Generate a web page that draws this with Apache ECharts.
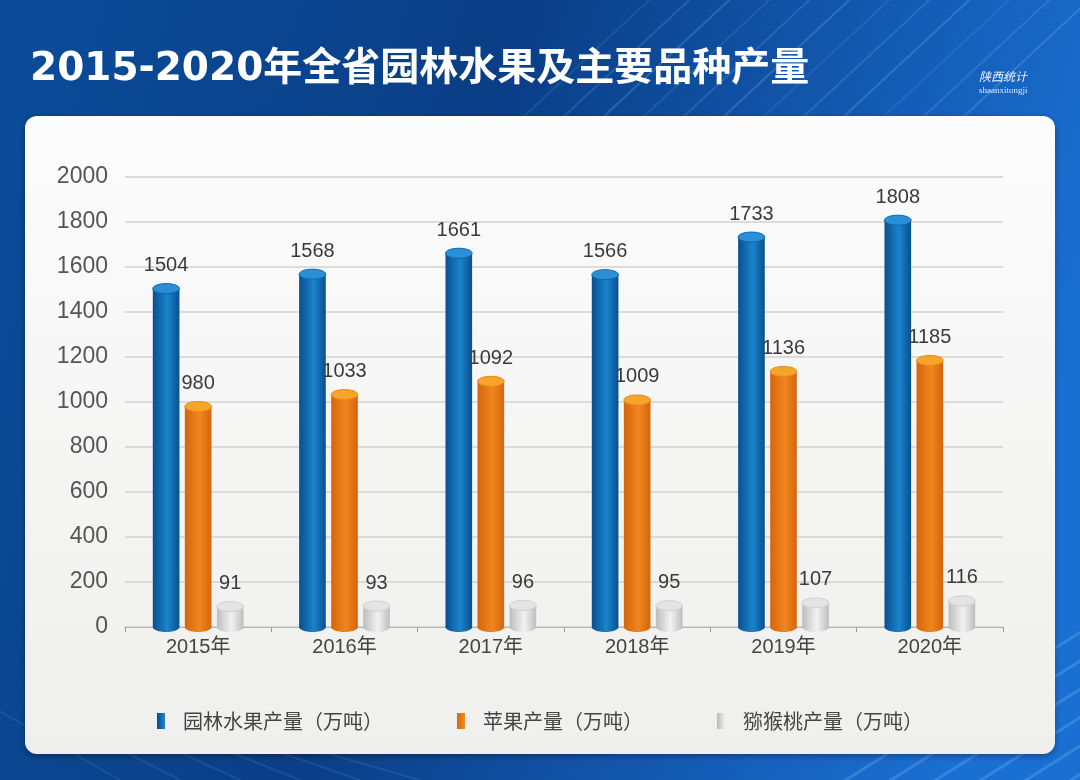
<!DOCTYPE html>
<html>
<head>
<meta charset="utf-8">
<script src="https://cdn.jsdelivr.net/npm/echarts@6/dist/echarts.min.js"></script>
<style>
html,body{margin:0;padding:0;background:#0d4a98;}
#chart{width:1080px;height:780px;}
</style>
</head>
<body>
<div id="chart"></div>
<script>
const titleText = '2015-2020年全省园林水果及主要品种产量';
const categories = ['2015年', '2016年', '2017年', '2018年', '2019年', '2020年'];
const seriesNames = ['园林水果产量（万吨）', '苹果产量（万吨）', '猕猴桃产量（万吨）'];
const orchardFruit = [1504, 1568, 1661, 1566, 1733, 1808];
const apple = [980, 1033, 1092, 1009, 1136, 1185];
const kiwi = [91, 93, 96, 95, 107, 116];
const yMin = 0, yMax = 2000, yInterval = 200;

const palettes = [
  {edge: '#0a4f8e', mid: '#1a84cc', cap: '#2a8fd6', capEdge: '#0c66ad', legend: ['#0a4a88', '#1d86d0']},
  {edge: '#d5650a', mid: '#f08620', cap: '#f6a52a', capEdge: '#e98a1a', legend: ['#d9690c', '#f08a22']},
  {edge: '#bdbdbd', mid: '#f2f2f2', cap: '#e4e4e4', capEdge: '#cfcfcf', legend: ['#b8b8b8', '#f0f0f0']}
];

const chart = echarts.init(document.getElementById('chart'), null, {renderer: 'canvas'});

function makeRender(sIdx) {
  return function (params, api) {
    const idx = api.value(0);
    const val = api.value(1);
    const base = api.coord([idx, 0]);
    const top = api.coord([idx, val]);
    const band = api.size([1, 0])[0];
    const w = band * 0.182;
    const step = band * 0.219;
    const cx = base[0] + (sIdx - 1) * step;
    const ry = 5;
    const p = palettes[sIdx];
    const bodyFill = {
      type: 'linear', x: 0, y: 0, x2: 1, y2: 0,
      colorStops: [
        {offset: 0, color: p.edge},
        {offset: 0.55, color: p.mid},
        {offset: 1, color: p.edge}
      ]
    };
    return {
      type: 'group',
      children: [
        {type: 'ellipse', shape: {cx: cx, cy: base[1], rx: w / 2, ry: ry}, style: {fill: bodyFill}},
        {type: 'rect', shape: {x: cx - w / 2, y: top[1], width: w, height: base[1] - top[1]}, style: {fill: bodyFill}},
        {type: 'ellipse', shape: {cx: cx, cy: top[1], rx: w / 2, ry: ry},
          style: {fill: p.cap, stroke: p.capEdge, lineWidth: 1}},
        {type: 'text', style: {
          text: String(val), x: cx, y: top[1] - ry - 8,
          textAlign: 'center', textVerticalAlign: 'bottom',
          font: '20px "Liberation Sans", Arial, sans-serif', fill: '#3a3a3a'
        }}
      ]
    };
  };
}

const allData = [orchardFruit, apple, kiwi];

// decorative diagonal lines in the background
const deco = [];
const lineStarts = [640, 680, 720, 760, 800, 840, 880, 920, 960, 1000, 1040, 1080];
lineStarts.forEach(function (x0, i) {
  deco.push({type: 'line', z: -9, silent: true,
    shape: {x1: x0 - 120, y1: 120, x2: x0 + 20, y2: -10},
    style: {stroke: 'rgba(140,200,255,' + (0.12 + (i % 3) * 0.05) + ')', lineWidth: 2}});
});
[0, 1, 2, 3, 4, 5].forEach(function (i) {
  deco.push({type: 'line', z: -9, silent: true,
    shape: {x1: 830 + i * 45, y1: 790, x2: 1100 + i * 45, y2: 620},
    style: {stroke: 'rgba(140,200,255,0.25)', lineWidth: 3}});
  deco.push({type: 'line', z: -9, silent: true,
    shape: {x1: -20 + i * 60, y1: 700 + i * 8, x2: 120 + i * 60, y2: 780},
    style: {stroke: 'rgba(140,200,255,0.12)', lineWidth: 2}});
});

const option = {
  animation: false,
  graphic: [
    {type: 'rect', z: -10, silent: true, shape: {x: 0, y: 0, width: 1080, height: 780},
      style: {fill: {type: 'linear', x: 0, y: 0, x2: 1, y2: 0.4, colorStops: [
        {offset: 0, color: '#0b4c9a'}, {offset: 0.45, color: '#0a3e86'}, {offset: 1, color: '#1a6fd2'}]}}},
    ...deco,
    {type: 'rect', z: -8, silent: true, shape: {x: 25, y: 116, width: 1030, height: 638, r: 12},
      style: {fill: {type: 'linear', x: 0, y: 0, x2: 0, y2: 1, colorStops: [
        {offset: 0, color: '#fcfcfc'}, {offset: 1, color: '#efefee'}]},
        shadowBlur: 6, shadowColor: 'rgba(0,0,0,0.35)', shadowOffsetY: 2}},
    {type: 'text', z: 10, left: 30, top: 50,
      style: {text: titleText, font: 'bold 39px "DejaVu Sans", "Noto Sans CJK SC", sans-serif', fill: '#ffffff'}},
    {type: 'text', z: 10, left: 979, top: 70,
      style: {text: '陕西统计', font: 'italic 12px "Noto Sans CJK SC", sans-serif', fill: '#e8f2ff'}},
    {type: 'text', z: 10, left: 979, top: 86,
      style: {text: 'shaanxitongji', font: '9px "Liberation Serif", serif', fill: '#d8e8ff'}}
  ],
  legend: {
    left: 'center',
    top: 706,
    itemWidth: 8,
    itemHeight: 16,
    itemGap: 74,
    icon: 'rect',
    textStyle: {fontSize: 20, color: '#444', padding: [0, 0, 0, 13], fontFamily: '"Noto Sans CJK SC", sans-serif'},
    data: seriesNames.map(function (n, i) {
      return {name: n, itemStyle: {color: {type: 'linear', x: 0, y: 0, x2: 1, y2: 0, colorStops: [
        {offset: 0, color: palettes[i].legend[0]}, {offset: 1, color: palettes[i].legend[1]}]}}};
    })
  },
  grid: {left: 125, right: 77, top: 177, bottom: 153, containLabel: false},
  xAxis: {
    type: 'category',
    data: categories,
    axisLine: {show: true, lineStyle: {color: '#b5b5b5', width: 1}},
    axisTick: {show: true, length: 5, lineStyle: {color: '#9a9a9a'}},
    axisLabel: {fontSize: 20, color: '#444', margin: 10, fontFamily: '"Liberation Sans", "Noto Sans CJK SC", sans-serif'}
  },
  yAxis: {
    type: 'value',
    min: yMin, max: yMax, interval: yInterval,
    axisLine: {show: false},
    axisTick: {show: false},
    axisLabel: {fontSize: 23, color: '#555', margin: 17, fontFamily: '"Liberation Sans", Arial, sans-serif',
      formatter: function (v) { return String(v); }},
    splitLine: {lineStyle: {color: '#d2d2d2', width: 1.5}}
  },
  series: allData.map(function (arr, sIdx) {
    return {
      name: seriesNames[sIdx],
      type: 'custom',
      renderItem: makeRender(sIdx),
      itemStyle: {color: palettes[sIdx].mid},
      encode: {x: 0, y: 1},
      data: arr.map(function (v, i) { return [i, v]; }),
      z: 5
    };
  })
};
chart.setOption(option);
</script>
</body>
</html>
